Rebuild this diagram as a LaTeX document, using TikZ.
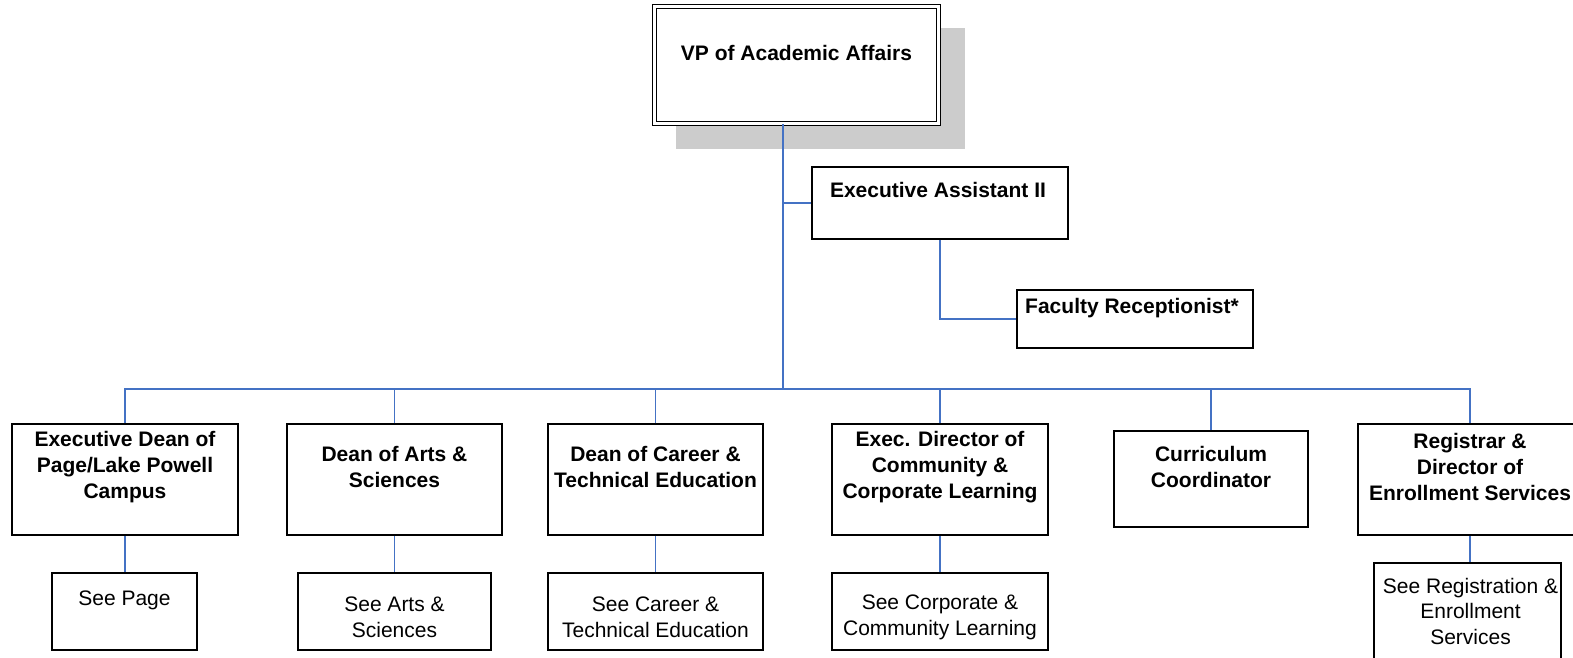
\documentclass[tikz,border=0pt]{standalone}
\usepackage{fontspec}
\setmainfont{Liberation Sans}
\definecolor{connblue}{RGB}{68,114,196}
\definecolor{shadowgray}{RGB}{204,204,204}
\begin{document}
\begin{tikzpicture}[x=1pt,y=-1pt,
  box/.style={draw=black, line width=1.5pt, fill=white, inner sep=0pt, rectangle},
  lbl/.style={font=\fontsize{21}{26}\selectfont\bfseries, align=center, inner sep=0pt},
  sub/.style={font=\fontsize{21}{25.5}\selectfont, align=center, inner sep=0pt},
  conn/.style={draw=connblue, line width=1.5pt}]
\useasboundingbox (0,0) rectangle (1573,658);
\begin{scope}
\clip (0,0) rectangle (1573,658);
% shadow
\fill[shadowgray] (676,28) rectangle (965,149);
% top
\node[box, line width=1.2pt, double, double distance=2.5pt, minimum width=284pt, minimum height=117pt] (vp) at (796.5,65) {};
\node[box, minimum width=256pt, minimum height=72pt] (ea) at (940,203) {};
\node[box, minimum width=236pt, minimum height=58pt] (fr) at (1135,319) {};
% second row
\node[box, minimum width=226pt, minimum height=111pt] (d1) at (125,479.5) {};
\node[box, minimum width=215pt, minimum height=111pt] (d2) at (394.5,479.5) {};
\node[box, minimum width=215pt, minimum height=111pt] (d3) at (655.5,479.5) {};
\node[box, minimum width=216pt, minimum height=111pt] (d4) at (940,479.5) {};
\node[box, minimum width=194pt, minimum height=96pt] (d5) at (1211,479) {};
\node[box, minimum width=224pt, minimum height=111pt] (d6) at (1470,479.5) {};
% third row
\node[box, minimum width=145pt, minimum height=77pt] (s1) at (124.5,611.5) {};
\node[box, minimum width=193pt, minimum height=77pt] (s2) at (394.5,611.5) {};
\node[box, minimum width=215pt, minimum height=77pt] (s3) at (655.5,611.5) {};
\node[box, minimum width=216pt, minimum height=77pt] (s4) at (940,611.5) {};
\node[box, minimum width=187pt, minimum height=105pt] (s6) at (1467.5,615.5) {};
% texts
\node[lbl] (vpt) at (796.5,53) {VP of Academic Affairs};
\node[lbl] (eat) at (938,190) {Executive Assistant II};
\node[lbl] (frt) at (1132,308) {Faculty Receptionist*};
\node[lbl] (t1) at (125,467) {Executive Dean of\\Page/Lake Powell\\Campus};
\node[lbl] (t2) at (394.5,467) {Dean of Arts \&\\Sciences};
\node[lbl] (t3) at (655.5,467) {Dean of Career \&\\Technical Education};
\node[lbl] (t4) at (940,467) {Exec. Director of\\Community \&\\Corporate Learning};
\node[lbl] (t5) at (1211,467) {Curriculum\\Coordinator};
\node[lbl] (t6) at (1470,467) {Registrar \&\\Director of\\Enrollment Services};
\node[sub] (st1) at (124.5,600) {See Page};
\node[sub] (st2) at (394.5,617.5) {See Arts \&\\Sciences};
\node[sub] (st3) at (655.5,617.5) {See Career \&\\Technical Education};
\node[sub] (st4) at (940,617.5) {See Corporate \&\\Community Learning};
\node[sub] (st6) at (1470.5,611) {See Registration \&\\Enrollment\\Services};
% connectors
\coordinate (hub) at (783,389);
\draw[conn] (vp.south -| hub) -- (hub);
\draw[conn] (hub |- ea.west) -- (ea.west);
\draw[conn] (ea.south) -- (ea.south |- fr.west) -- (fr.west);
\draw[conn] (d1.north) -- (d1.north |- hub) -- (d6.north |- hub) -- (d6.north);
\draw[conn] (d2.north) -- (d2.north |- hub);
\draw[conn] (d3.north) -- (d3.north |- hub);
\draw[conn] (d4.north) -- (d4.north |- hub);
\draw[conn] (d5.north) -- (d5.north |- hub);
\draw[conn] (d1.south) -- (d1.south |- s1.north);
\draw[conn] (d2.south) -- (d2.south |- s2.north);
\draw[conn] (d3.south) -- (d3.south |- s3.north);
\draw[conn] (d4.south) -- (d4.south |- s4.north);
\draw[conn] (d6.south) -- (d6.south |- s6.north);
\end{scope}
\end{tikzpicture}
\end{document}
